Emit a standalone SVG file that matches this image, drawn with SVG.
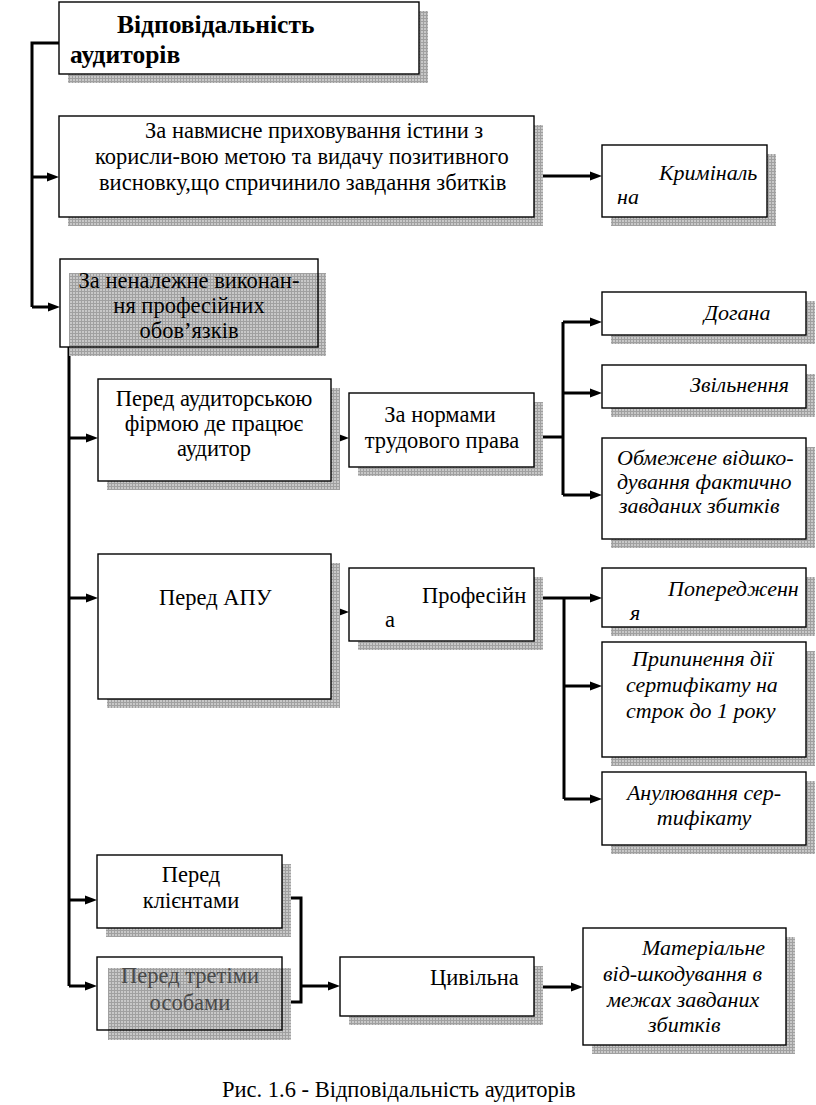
<svg xmlns="http://www.w3.org/2000/svg" width="816" height="1105" viewBox="0 0 816 1105">
<defs>
<pattern id="mesh" width="3" height="3" patternUnits="userSpaceOnUse"><rect width="3" height="3" fill="#c8c8c8"/><path d="M0,0.5H3M0.5,0V3" stroke="#a0a0a0" stroke-width="1"/></pattern>
<marker id="arr" markerUnits="userSpaceOnUse" markerWidth="12" markerHeight="10" refX="0" refY="5" orient="auto"><path d="M0,0.5 L12,5 L0,9.5 z" fill="#000"/></marker>
<style>
.box{fill:#fff;stroke:#000;stroke-width:1.4}
.open{fill:none;stroke:#000;stroke-width:1.4}
.sh{fill:url(#mesh)}
.t{font-size:22.5px;fill:#000}
.i{font-style:italic;font-size:22px}
.c{text-anchor:middle}
.title{font-weight:bold;font-size:25.5px}
.gray{fill:#4a4a4a}
.ln{fill:none;stroke:#000;stroke-width:3}
.ar{fill:none;stroke:#000;stroke-width:3;marker-end:url(#arr)}
</style>
</defs>
<rect width="816" height="1105" fill="#fff"/>

<g id="connectors">
<path class="ln" d="M59,43 H32 V307"/>
<path class="ar" d="M32,177 H47"/>
<path class="ar" d="M32,307 H48"/>
<path class="ar" d="M534,176 H590"/>
<path class="ln" d="M69,347 V986"/>
<path class="ar" d="M69,438 H86"/>
<path class="ar" d="M69,598 H86"/>
<path class="ar" d="M69,900 H85"/>
<path class="ar" d="M69,986 H85"/>
<path class="ar" d="M331,438 H337"/>
<path class="ln" d="M534,437 H563"/>
<path class="ln" d="M563,322 V495"/>
<path class="ar" d="M563,322 H590"/>
<path class="ar" d="M563,393 H590"/>
<path class="ar" d="M563,495 H590"/>
<path class="ar" d="M331,612 H337"/>
<path class="ar" d="M534,598 H590"/>
<path class="ln" d="M564,598 V799"/>
<path class="ar" d="M564,686 H590"/>
<path class="ar" d="M564,799 H590"/>
<path class="ln" d="M282,898 H301 V1002 H282"/>
<path class="ar" d="M301,986 H328"/>
<path class="ar" d="M534,987 H571"/>
</g>

<g font-family="'Liberation Serif', 'Times New Roman', 'DejaVu Serif', serif">
<g id="title">
<rect class="sh" x="68" y="11" width="360" height="72"/>
<rect class="box" x="59" y="2" width="360" height="72"/>
<text class="t title" x="117" y="33">Відповідальність</text>
<text class="t title" x="70" y="63">аудиторів</text>
</g>

<g id="intent">
<rect class="sh" x="68" y="125" width="475" height="101"/>
<rect class="box" x="59" y="116" width="475" height="101"/>
<text class="t" x="145" y="138">За навмисне приховування істини з</text>
<text class="t" x="95" y="164">корисли-вою метою та видачу позитивного</text>
<text class="t" x="99" y="190">висновку,що спричинило завдання збитків</text>
</g>

<g id="criminal">
<rect class="sh" x="611" y="154" width="165" height="72"/>
<rect class="box" x="602" y="145" width="165" height="72"/>
<text class="t i" x="659" y="180">Криміналь</text>
<text class="t i" x="617" y="204">на</text>
</g>

<g id="improper">
<rect class="sh" x="69" y="273" width="257" height="83"/>
<rect class="open" x="60" y="259" width="258" height="88"/>
<text class="t c" x="189" y="288">За неналежне виконан-</text>
<text class="t c" x="189" y="313">ня професійних</text>
<text class="t c" x="189" y="338">обов’язків</text>
</g>

<g id="firm">
<rect class="sh" x="107" y="388" width="233" height="102"/>
<rect class="box" x="98" y="379" width="233" height="102"/>
<text class="t c" x="214" y="406">Перед аудиторською</text>
<text class="t c" x="214" y="431">фірмою де працює</text>
<text class="t c" x="214" y="456">аудитор</text>
</g>

<g id="labor">
<rect class="sh" x="358" y="402" width="185" height="74"/>
<rect class="box" x="349" y="393" width="185" height="74"/>
<text class="t c" x="440" y="422">За нормами</text>
<text class="t c" x="442" y="448">трудового права</text>
</g>

<g id="reprimand">
<rect class="sh" x="611" y="301" width="204" height="43"/>
<rect class="box" x="602" y="292" width="204" height="43"/>
<text class="t i" x="704" y="320">Догана</text>
</g>

<g id="dismissal">
<rect class="sh" x="611" y="374" width="204" height="43"/>
<rect class="box" x="602" y="365" width="204" height="43"/>
<text class="t i" x="690" y="392">Звільнення</text>
</g>

<g id="limited">
<rect class="sh" x="611" y="447" width="204" height="101"/>
<rect class="box" x="602" y="438" width="204" height="101"/>
<text class="t i" x="617" y="465">Обмежене відшко-</text>
<text class="t i" x="617" y="489">дування фактично</text>
<text class="t i" x="619" y="513">завданих збитків</text>
</g>

<g id="apu">
<rect class="sh" x="107" y="563" width="233" height="145"/>
<rect class="box" x="98" y="554" width="233" height="145"/>
<text class="t" x="159" y="605">Перед АПУ</text>
</g>

<g id="professional">
<rect class="sh" x="358" y="577" width="185" height="73"/>
<rect class="box" x="349" y="568" width="185" height="73"/>
<text class="t" x="422" y="603">Професійн</text>
<text class="t" x="385" y="627">а</text>
</g>

<g id="warning">
<rect class="sh" x="611" y="577" width="204" height="59"/>
<rect class="box" x="602" y="568" width="204" height="59"/>
<text class="t i" x="668" y="596">Попередженн</text>
<text class="t i" x="630" y="620">я</text>
</g>

<g id="suspension">
<rect class="sh" x="611" y="651" width="204" height="115"/>
<rect class="box" x="602" y="642" width="204" height="115"/>
<text class="t i" x="632" y="666">Припинення  дії</text>
<text class="t i" x="626" y="692">сертифікату на</text>
<text class="t i" x="626" y="718">строк до 1 року</text>
</g>

<g id="annulment">
<rect class="sh" x="611" y="781" width="204" height="73"/>
<rect class="box" x="602" y="772" width="204" height="73"/>
<text class="t i c" x="704" y="800">Анулювання сер-</text>
<text class="t i c" x="704" y="825">тифікату</text>
</g>

<g id="clients">
<rect class="sh" x="106" y="864" width="185" height="73"/>
<rect class="box" x="97" y="855" width="185" height="73"/>
<text class="t c" x="191" y="882">Перед</text>
<text class="t c" x="191" y="908">клієнтами</text>
</g>

<g id="third">
<rect class="sh" x="108" y="968" width="183" height="72"/>
<rect class="open" x="97" y="957" width="185" height="73"/>
<text class="t c gray" x="190" y="983">Перед третіми</text>
<text class="t c gray" x="190" y="1010">особами</text>
</g>

<g id="civil">
<rect class="sh" x="349" y="966" width="194" height="59"/>
<rect class="box" x="340" y="957" width="194" height="59"/>
<text class="t" x="430" y="985">Цивільна</text>
</g>

<g id="material">
<rect class="sh" x="592" y="937" width="203" height="117"/>
<rect class="box" x="583" y="928" width="203" height="117"/>
<text class="t i" x="642" y="955">Матеріальне</text>
<text class="t i" x="603" y="981">від-шкодування в</text>
<text class="t i" x="607" y="1007">межах завданих</text>
<text class="t i" x="648" y="1032">збитків</text>
</g>

<text class="t" x="222" y="1097">Рис. 1.6 - Відповідальність аудиторів</text>
</g>
</svg>
